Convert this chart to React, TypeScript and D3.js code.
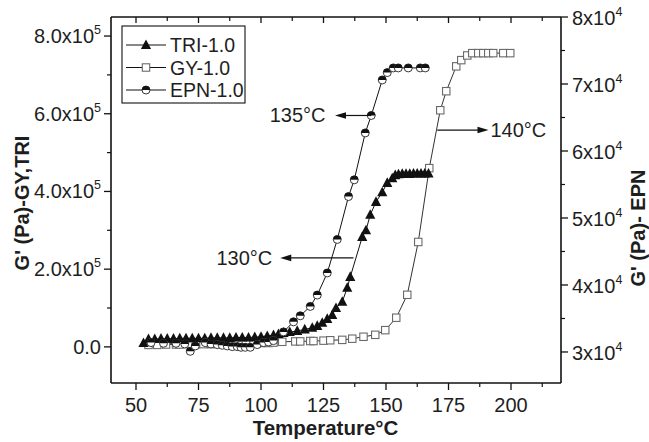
import React, { useEffect } from "react";
import * as d3 from "d3";

// ---------- data ----------
const triT = [53,55,57.5,60,62.5,65,67.5,70,72.5,75,77.5,80,82.5,85,87.5,90,92.5,95,97.5,100,102.5,105,107,109,111.5,114.5,117.5,120.5,122.5,124.5,126.5,128.5,130,132.5,134.5,135.7,140.5,142,143.7,146,148.5,150.5,152.5,153.7,155,156.5,158,159.5,161,162.5,164,165.5,167];
const triG = [0.1,0.2,0.2,0.21,0.21,0.21,0.22,0.22,0.22,0.22,0.22,0.23,0.23,0.23,0.23,0.24,0.24,0.24,0.25,0.26,0.28,0.30,0.33,0.36,0.38,0.41,0.45,0.49,0.54,0.62,0.72,0.82,1.0,1.16,1.52,1.8,2.83,3.0,3.4,3.73,3.98,4.22,4.34,4.42,4.44,4.45,4.45,4.45,4.46,4.46,4.46,4.46,4.46]; // x1e5 Pa

const gyT = [55,58.5,62,66,67.5,71,74,77,80,83,86,88,91,94,97,100,103,105,108.5,113.7,115.7,119.7,121,125,127.7,132.5,136.5,141,145.7,149.7,154.1,158.5,162.9,167.3,171.7,174.1,178.1,180.1,182.5,184.5,186.9,188.9,190.9,192.9,196.9,199.7];
const gyG = [0.05,0.05,0.06,0.06,0.06,0.07,0.07,0.07,0.07,0.08,0.08,0.08,0.08,0.09,0.09,0.1,0.1,0.11,0.13,0.14,0.14,0.15,0.15,0.16,0.17,0.18,0.21,0.26,0.31,0.43,0.75,1.34,2.7,4.6,6.09,6.58,7.22,7.38,7.5,7.56,7.56,7.56,7.56,7.56,7.56,7.56]; // x1e5 Pa

const epnT = [56,61,66,69.5,71.7,73.7,77.7,80,82.5,84.5,86.5,88.5,90.5,92,93.7,95.7,98.5,101,103,105,109,113,115.7,119.7,122.5,126.5,130.5,135,137.3,141.7,144.1,148.5,150.5,152.9,154.9,158.9,163.7,165.7];
const epnG = [3.14,3.13,3.13,3.12,3.01,3.09,3.14,3.12,3.11,3.10,3.09,3.08,3.08,3.07,3.07,3.07,3.11,3.14,3.15,3.17,3.30,3.45,3.54,3.68,3.85,4.18,4.68,5.32,5.57,6.27,6.53,7.06,7.17,7.24,7.24,7.24,7.24,7.24]; // x1e4 Pa

const xTicks = [50, 75, 100, 125, 150, 175, 200];
const xMinor = [62.5, 87.5, 112.5, 137.5, 162.5, 187.5, 212.5];
const leftTicks = [0, 2, 4, 6, 8]; // x1e5
const leftMinor = [1, 3, 5, 7];
const rightTicks = [3, 4, 5, 6, 7, 8]; // x1e4
const rightMinor = [3.5, 4.5, 5.5, 6.5, 7.5];
const legendLabels = ["TRI-1.0", "GY-1.0", "EPN-1.0"];

// annotations
const annLabels = ["135°C", "130°C", "140°C"];
const annY = [6.53, 2.29, 5.58];
const annAxis = ["right", "left", "left"];
const annFrom = [144.1, 137, 170.5];
const annTo = [129.6, 107.7, 191];
const annText = [125.8, 104.5, 191.8];

// ---------- layout ----------
const W = 649, H = 442;
const L = 111, R = 561, T = 17, B = 383;
const FONT = "Liberation Sans, Arial, sans-serif";
const TXT = "#1e1e1e";

const x = d3.scaleLinear().domain([40, 220]).range([L, R]);
const yL = d3.scaleLinear().domain([-0.93, 8.49]).range([B, T]);
const yR = d3.scaleLinear().domain([2.537, 8]).range([B, T]);

function Tri({ cx, cy }: { cx: number; cy: number }) {
  return <path d={`M${cx},${cy - 5.6}L${cx + 5.1},${cy + 4}L${cx - 5.1},${cy + 4}Z`} fill="#111" />;
}
function Sq({ cx, cy }: { cx: number; cy: number }) {
  return <rect x={cx - 3.7} y={cy - 3.7} width={7.4} height={7.4} fill="#fff" stroke="#6a6a6a" strokeWidth={1.1} />;
}
function Half({ cx, cy }: { cx: number; cy: number }) {
  const r = 4;
  return (
    <g>
      <circle cx={cx} cy={cy} r={r} fill="#fff" stroke="#222" strokeWidth={0.9} />
      <path d={`M${cx - r},${cy}A${r},${r} 0 0 1 ${cx + r},${cy}Z`} fill="#111" />
    </g>
  );
}

export default function App() {
  useEffect(() => {
    document.body.style.margin = "0";
  }, []);

  const line = d3.line<[number, number]>().x((d) => d[0]).y((d) => d[1]);
  const triPts: [number, number][] = triT.map((t, i) => [x(t), yL(triG[i])]);
  const gyPts: [number, number][] = gyT.map((t, i) => [x(t), yL(gyG[i])]);
  const epnPts: [number, number][] = epnT.map((t, i) => [x(t), yR(epnG[i])]);

  const sup = (exp: number, fmt: string) => (
    <>
      {fmt}
      <tspan fontSize={12.5} dy={-9}>{exp}</tspan>
    </>
  );

  return (
    <svg width={W} height={H} style={{ position: "absolute", left: 0, top: 0, background: "#fff" }} fontFamily={FONT}>
      <rect width={W} height={H} fill="#fff" />
      {/* series lines */}
      <path d={line(gyPts) || ""} fill="none" stroke="#333" strokeWidth={1} />
      <path d={line(triPts) || ""} fill="none" stroke="#111" strokeWidth={1} />
      <path d={line(epnPts) || ""} fill="none" stroke="#111" strokeWidth={1} />
      {gyPts.map((p, i) => <Sq key={"g" + i} cx={p[0]} cy={p[1]} />)}
      {triPts.map((p, i) => <Tri key={"t" + i} cx={p[0]} cy={p[1]} />)}
      {epnPts.map((p, i) => <Half key={"e" + i} cx={p[0]} cy={p[1]} />)}

      {/* frame */}
      <line x1={L} x2={R} y1={B} y2={B} stroke="#111" strokeWidth={1.6} />
      <line x1={L} x2={R} y1={T} y2={T} stroke="#111" strokeWidth={1.4} />
      <line x1={L} x2={L} y1={T} y2={B} stroke="#111" strokeWidth={1.6} />
      <line x1={R} x2={R} y1={T} y2={B} stroke="#111" strokeWidth={1.6} />

      {/* bottom axis */}
      {xTicks.map((t) => (
        <g key={"xt" + t}>
          <line x1={x(t)} x2={x(t)} y1={B} y2={B + 7} stroke="#111" strokeWidth={1.3} />
          <line x1={x(t)} x2={x(t)} y1={T} y2={T + 6} stroke="#111" strokeWidth={1.3} />
          <text x={x(t)} y={B + 29} textAnchor="middle" fontSize={20} fill={TXT}>{t}</text>
        </g>
      ))}
      {xMinor.map((t) => (
        <g key={"xm" + t}>
          <line x1={x(t)} x2={x(t)} y1={B} y2={B + 4} stroke="#111" strokeWidth={1.2} />
          <line x1={x(t)} x2={x(t)} y1={T} y2={T + 4} stroke="#111" strokeWidth={1.2} />
        </g>
      ))}
      <text x={(x(50) + x(200)) / 2 + 2} y={435} textAnchor="middle" fontSize={20.5} fontWeight="bold" fill={TXT}>Temperature°C</text>

      {/* left axis */}
      {leftTicks.map((v) => (
        <g key={"lt" + v}>
          <line x1={L - 7} x2={L} y1={yL(v)} y2={yL(v)} stroke="#111" strokeWidth={1.3} />
          <text x={L - 10} y={yL(v) + 7} textAnchor="end" fontSize={20} fill={TXT}>
            {v === 0 ? "0.0" : sup(5, `${v.toFixed(1)}x10`)}
          </text>
        </g>
      ))}
      {leftMinor.map((v) => (
        <line key={"lm" + v} x1={L - 4} x2={L} y1={yL(v)} y2={yL(v)} stroke="#111" strokeWidth={1.2} />
      ))}
      <text transform={`translate(29,${203}) rotate(-90)`} textAnchor="middle" fontSize={20} fontWeight="bold" fill={TXT}>G' (Pa)-GY,TRI</text>

      {/* right axis */}
      {rightTicks.map((v) => (
        <g key={"rt" + v}>
          <line x1={R} x2={R + 7} y1={yR(v)} y2={yR(v)} stroke="#111" strokeWidth={1.3} />
          <text x={R + 11} y={yR(v) + 8} textAnchor="start" fontSize={20} fill={TXT}>
            {sup(v === 0 ? 0 : 4, `${v}x10`)}
          </text>
        </g>
      ))}
      {rightMinor.map((v) => (
        <line key={"rm" + v} x1={R} x2={R + 4} y1={yR(v)} y2={yR(v)} stroke="#111" strokeWidth={1.2} />
      ))}
      <text transform={`translate(645,${228}) rotate(-90)`} textAnchor="middle" fontSize={20} fontWeight="bold" fill={TXT}>G' (Pa)- EPN</text>

      {/* legend */}
      <rect x={122} y={26} width={123} height={77} fill="#fff" stroke="#111" strokeWidth={1.1} />
      {legendLabels.map((lab, i) => {
        const ly = 45 + i * 22.5;
        return (
          <g key={lab}>
            <line x1={126} x2={166} y1={ly} y2={ly} stroke="#111" strokeWidth={1} />
            {i === 0 && <Tri cx={146} cy={ly} />}
            {i === 1 && <Sq cx={146} cy={ly} />}
            {i === 2 && <Half cx={146} cy={ly} />}
            <text x={170} y={ly + 7} fontSize={19.5} fill={TXT}>{lab}</text>
          </g>
        );
      })}

      {/* annotations */}
      {annLabels.map((lab, i) => {
        const yy = annAxis[i] === "right" ? yR(annY[i]) : yL(annY[i]);
        const x0 = x(annFrom[i]);
        const x1 = x(annTo[i]);
        const dir = x1 > x0 ? 1 : -1;
        const head = `M${x1},${yy}L${x1 - dir * 11},${yy - 3.3}L${x1 - dir * 11},${yy + 3.3}Z`;
        return (
          <g key={lab}>
            <line x1={x0} x2={x1 - dir * 8} y1={yy} y2={yy} stroke="#111" strokeWidth={1.2} />
            <path d={head} fill="#111" />
            <text x={x(annText[i])} y={yy + 7} textAnchor={dir < 0 ? "end" : "start"} fontSize={20} fill={TXT}>{lab}</text>
          </g>
        );
      })}
    </svg>
  );
}
